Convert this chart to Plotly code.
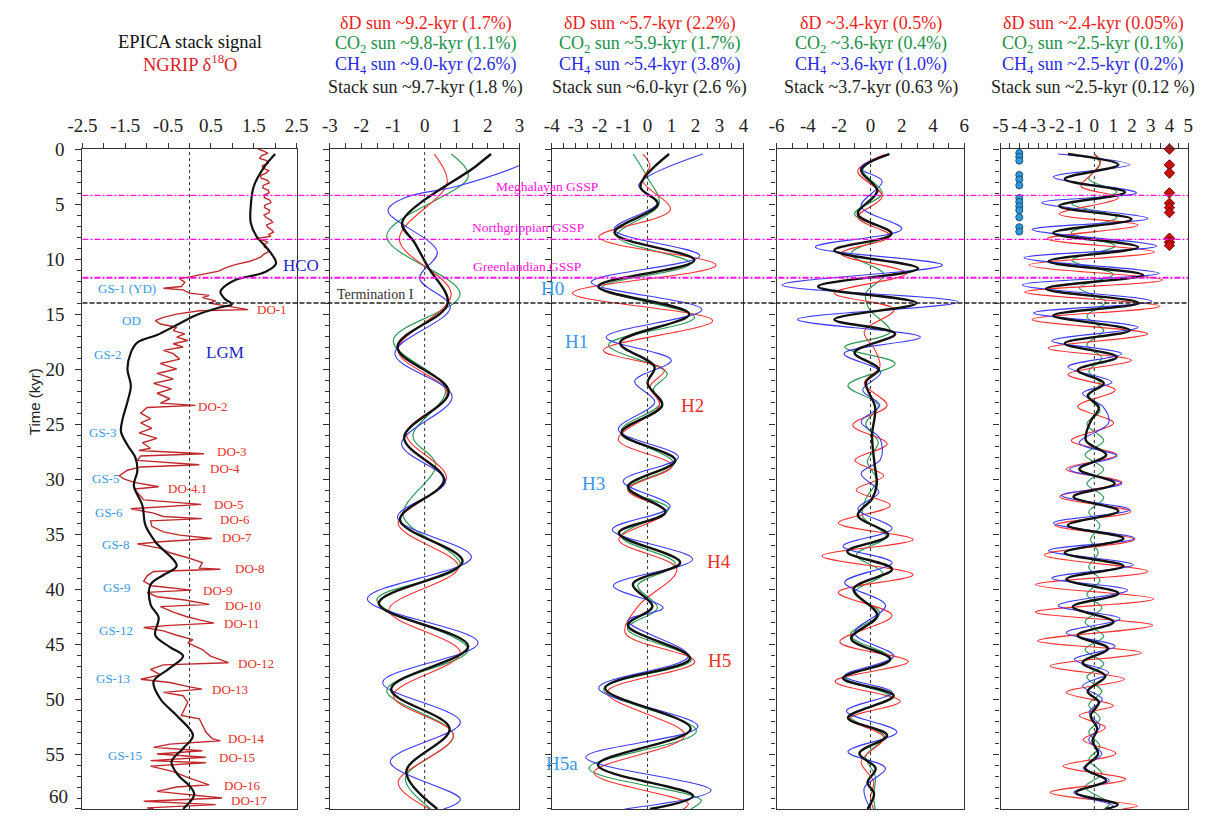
import plotly.graph_objects as go

# ---------------------------------------------------------------- data
# Panel 1: EPICA stack (black) and NGRIP d18O (red), time in kyr
epica_t = [0.45, 1.6, 3.4, 5.2, 6.7, 7.9, 9.1, 10.4, 11.2, 11.9, 12.7, 13.0, 13.6, 14.1, 14.4, 15.1,
           16.0, 16.9, 17.6, 18.5, 20.0, 21.5, 23.0, 24.5, 25.7, 26.9, 28.1, 29.3, 30.6, 32.4,
           34.2, 35.7, 37.9, 38.7, 39.6, 41.4, 42.6, 44.2, 45.3, 46.1, 47.3, 48.4, 50.0, 51.5,
           53.3, 54.5, 55.7, 56.9, 57.9, 58.7, 60.0]
epica_v = [2.0, 1.75, 1.5, 1.43, 1.43, 1.56, 1.83, 2.02, 1.75, 1.07, 0.76, 0.72, 0.82, 0.99, 0.7, 0.15,
           -0.3, -0.76, -1.22, -1.37, -1.45, -1.37, -1.45, -1.56, -1.6, -1.45, -1.26, -1.22, -1.3, -1.1,
           -1.03, -0.8, -0.3, -0.6, -0.91, -0.91, -0.72, -0.8, -0.45, -0.15, -0.5, -0.84, -0.68, -0.3,
           0.08, -0.15, -0.42, -0.27, 0.0, 0.11, -0.15]

ngrip_t = [0.0, 0.2, 0.39, 0.6, 0.84, 1.05, 1.29, 1.5, 1.73, 1.95, 2.18, 2.4, 2.63, 2.85, 3.08, 3.3, 3.53,
           3.75, 3.98, 4.2, 4.42, 4.65, 4.87, 5.1, 5.32, 5.55, 5.77, 6.0, 6.22, 6.45, 6.67, 6.9, 7.12,
           7.35, 7.56, 7.75, 7.92, 8.16, 8.3, 8.46, 8.7, 8.91, 9.15, 9.36, 9.6, 9.81, 10.0, 10.2, 10.5,
           10.8, 11.1, 11.4, 11.6,
           11.8, 12.1, 12.5, 12.65, 12.8, 13.1, 13.3, 13.5, 13.8, 14.0, 14.2, 14.4, 14.6, 14.7, 15.0,
           15.3, 15.6, 15.9, 16.2, 16.5, 16.8, 17.1, 17.4, 17.7, 18.0, 18.3, 18.6, 19.1, 19.5, 20.0,
           20.4, 20.9, 21.3, 21.8, 22.2, 22.7, 23.1, 23.3, 23.5, 24.0, 24.5, 24.9, 25.4, 25.8, 26.3,
           26.7, 27.2, 27.4, 27.7, 27.9, 28.3, 28.7, 28.9, 29.2, 29.7, 30.0, 30.3, 30.7, 30.9, 31.4,
           31.9, 32.3, 32.6, 32.7, 33.1, 33.4, 33.6, 33.8, 34.3, 34.8, 35.1, 35.4, 35.7, 35.9, 36.3,
           36.7, 37.2, 37.6, 38.1, 38.2, 38.4, 38.8, 39.3, 39.7, 40.1, 40.3, 40.7, 41.0, 41.4, 41.6,
           42.1, 42.5, 42.8, 43.1, 43.3, 43.5, 43.8, 44.2, 44.6, 44.9, 45.5, 46.1, 46.7, 46.9, 47.3,
           47.8, 48.2, 48.5, 48.9, 49.1, 49.4, 49.7, 50.3, 50.9, 51.5, 51.8, 52.4, 53.0, 53.6, 53.8,
           54.1, 54.4, 54.7, 55.0, 55.3, 55.6, 55.8, 56.1, 56.6, 57.2, 57.8, 58.0, 58.4, 58.7, 59.0,
           59.3, 59.6, 59.9, 60.0]
ngrip_v = [1.60, 1.75, 1.83, 1.68, 1.64, 1.80, 1.83, 1.70, 1.71, 1.85, 1.79, 1.66, 1.67, 1.82, 1.86, 1.72, 1.71,
           1.84, 1.86, 1.74, 1.75, 1.88, 1.90, 1.76, 1.75, 1.87, 1.86, 1.74, 1.79, 1.90, 1.94, 1.80, 1.83,
           1.92, 1.96, 1.85, 1.90, 1.52, 1.72, 1.83, 1.74, 1.75, 1.85, 1.83, 1.72, 1.67, 1.55, 1.41, 1.07,
           0.84, 0.68, 0.30, 0.0,
           -0.23, -0.11, -0.19, -0.61, -0.15, 0.0, 0.46, 0.30, 0.61, 0.46, 0.76, 1.07, 1.37, 0.23, -0.30,
           -0.61, -0.80, -0.68, -0.30, -0.38, -0.11, -0.30, -0.04, -0.38, -0.15, -0.61, -0.38, -0.23, -0.68, -0.30,
           -0.76, -0.38, -0.84, -0.42, -0.76, -0.46, -0.68, 0.14, -0.99, -1.14, -0.91, -1.14, -0.88, -1.18, -0.76,
           -1.10, -0.91, -1.18, 0.34, -1.14, -1.22, 0.23, -1.14, -1.45, -1.64, -1.52, -1.29, -0.72, -1.29, -1.18,
           -1.07, 0.27, -1.07, -1.37, -0.84, -0.61, 0.29, -0.91, -0.88, -0.61, -0.23, 0.52, -0.68, -1.22, -0.68,
           -0.46, 0.0, 0.30, 0.23, 0.72, -0.84, -0.99, -1.07, -0.88, 0.04, -0.99, -0.76, -0.11, 0.46, -0.68,
           -0.38, -0.08, 0.23, 0.57, -0.46, -1.07, -0.61, -0.30, 0.08, -0.04, 0.30, 0.49, 0.91, -0.61, -0.91,
           -0.68, -1.14, -0.46, 0.0, 0.29, -0.61, -0.15, -0.04, -0.11, -0.19, 0.23, 0.30, 0.38, 0.53, 0.72,
           -0.46, -0.84, 0.30, -0.76, 0.38, -0.91, 0.38, -0.91, -0.38, 0.0, 0.46, -0.30, -0.76, 0.08, 0.76,
           -1.07, 0.61, -0.99, -0.84]

# Panel 2: ~9-10 kyr band
p2_stack_t = [0.45, 1.6, 6.67, 8.5, 10.7, 14.05, 18.0, 22.06, 26.25, 30.1, 33.7, 37.5, 41.3, 45.2, 49.1, 52.7, 56.6, 60.0]
p2_stack_v = [2.1, 1.6, -0.71, -0.32, 0.1, 0.73, -0.86, 0.76, -0.65, 0.61, -0.78, 1.2, -1.45, 1.38, -1.06, 0.79, -0.58, 0.40]
p2_dD_t = [0.45, 3.1, 8.2, 13.2, 18.3, 22.2, 25.9, 29.9, 34.0, 38.0, 41.9, 45.8, 49.7, 53.3, 57.6, 60.0]
p2_dD_v = [0.3, 0.71, -0.8, 0.84, -0.84, 0.71, -0.58, 0.69, -0.84, 1.07, -1.13, 1.13, -0.99, 0.91, -0.84, 0.15]
p2_co2_t = [0.45, 2.5, 7.9, 13.2, 17.4, 21.9, 26.1, 28.7, 33.3, 37.8, 41.0, 45.5, 49.2, 53.3, 57.2, 60.0]
p2_co2_v = [0.84, 1.38, -1.2, 1.12, -0.99, 0.66, -0.37, 0.35, -0.68, 1.12, -1.51, 1.38, -1.2, 0.91, -0.61, 0.2]
p2_ch4_t = [0.6, 1.5, 3.4, 4.4, 5.6, 9.35, 11.75, 14.4, 18.6, 22.5, 26.8, 30.2, 33.5, 37.1, 40.9, 44.9, 48.5, 52.1, 55.7, 59.1, 60.0]
p2_ch4_v = [3.6, 3.0, 1.0, -0.6, -1.16, 0.4, -0.16, 0.81, -0.94, 0.87, -0.73, 0.66, -0.86, 1.48, -1.81, 1.69, -1.33, 1.13, -1.09, 1.13, 0.6]

# Panel 3: ~5-6 kyr band
p3_stack_t = [0.45, 3.4, 5.0, 7.6, 10.1, 12.5, 15.0, 17.6, 19.8, 21.3, 23.3, 25.8, 28.3, 30.7, 33.0, 34.9,
              37.6, 39.55, 41.6, 43.3, 46.3, 49.0, 52.7, 56.0, 58.8, 60.0]
p3_stack_v = [0.9, -0.3, 0.43, -1.38, 1.95, -2.06, 1.74, -1.15, 0.29, 0.0, 0.61, -1.09, 1.16, -0.82, 0.75, -1.2,
              1.36, -0.61, 0.2, -0.82, 1.77, -1.77, 1.8, -2.07, 1.9, 0.1]
p3_dD_t = [0.45, 1.5, 2.9, 5.5, 8.0, 10.55, 13.1, 15.6, 18.3, 20.1, 21.6, 23.3, 26.4, 28.8, 31.0, 33.0,
           35.5, 38.2, 41.6, 44.0, 46.6, 49.4, 53.3, 56.7, 59.5, 60.0]
p3_dD_v = [-0.2, 0.1, -0.2, 0.95, -2.04, 2.86, -3.13, 2.72, -1.84, 0.7, 0.1, 0.5, -1.22, 1.02, -0.82, 0.75,
           -1.2, 1.22, -0.41, -0.93, 1.97, -1.7, 1.56, -2.24, 1.7, 1.5]
p3_co2_t = [0.45, 2.6, 5.0, 7.9, 10.4, 12.6, 15.3, 17.8, 20.4, 21.8, 23.2, 25.6, 28.6, 30.9, 32.7, 35.2,
            37.7, 39.7, 41.7, 43.6, 46.4, 49.1, 52.9, 56.3, 59.2, 60.0]
p3_co2_v = [-0.6, 0.0, 0.48, -1.27, 1.77, -1.9, 1.97, -1.63, 0.82, 0.25, 0.5, -1.09, 1.09, -0.82, 0.88, -1.09,
            1.16, -0.41, 0.41, -0.84, 1.84, -1.84, 2.04, -2.45, 2.24, 1.8]
p3_ch4_t = [0.45, 3.3, 4.9, 7.3, 9.7, 12.1, 14.6, 17.1, 19.2, 21.1, 23.0, 25.5, 28.0, 30.2, 32.5, 34.6,
            37.3, 39.7, 41.7, 42.9, 46.1, 49.0, 52.5, 55.3, 58.3, 60.0]
p3_ch4_v = [2.31, -0.37, 0.41, -1.39, 2.18, -2.35, 2.27, -1.73, 0.99, -0.54, 0.3, -1.22, 1.29, -1.02, 0.95, -1.47,
            1.88, -1.43, 0.65, -0.82, 1.7, -2.04, 2.1, -2.58, 2.65, -0.95]

# Panel 4: ~3.5 kyr band
p4_stack_t = [0.45, 1.9, 3.8, 5.9, 7.7, 9.2, 10.85, 12.5, 14.0, 15.5, 16.8, 18.5, 20.0, 21.2, 23.5, 26.0,
              28.5, 30.5, 31.8, 33.3, 35.1, 36.6, 38.2, 40.0, 42.4, 44.5, 46.4, 48.1, 49.7, 51.7, 53.3,
              54.95, 56.3, 57.6, 58.6, 60.0]
p4_stack_v = [1.2, -0.6, 0.44, -0.81, 1.35, -2.31, 3.04, -3.35, 2.94, -2.31, 1.58, -1.02, 0.54, -0.29, 0.3, 0.1,
              0.25, 0.4, 0.1, -0.81, 1.13, -1.48, 1.38, -1.08, 0.44, -1.23, 1.27, -1.75, 1.48, -1.44, 1.06,
              -0.71, 0.33, -0.19, 0.23, -0.19]
p4_dD_t = [0.5, 2.0, 4.3, 6.2, 7.9, 9.5, 11.3, 13.1, 14.6, 16.6, 18.3, 19.8, 21.3, 23.3, 25.1, 26.8, 28.3,
           29.7, 31.0, 32.4, 34.0, 35.5, 37.0, 38.7, 40.3, 42.4, 44.8, 46.6, 48.4, 50.2, 51.8, 53.5, 55.7,
           57.5, 59.0, 60.0]
p4_dD_v = [0.9, -0.81, 0.75, -0.81, 1.27, -1.9, 2.31, -2.31, 1.5, -0.4, 0.3, 0.6, -0.4, 1.06, -1.13, 1.06, -1.0,
           0.85, -0.92, 1.27, -2.06, 2.73, -3.1, 2.73, -2.06, 1.38, -1.96, 2.42, -2.27, 1.9, -1.33, 0.85, -0.6,
           0.2, 0.0, 0.2]
p4_co2_t = [0.45, 1.9, 4.0, 5.9, 7.6, 9.5, 11.4, 13.1, 14.5, 16.6, 18.0, 19.5, 21.5, 23.3, 25.0, 26.7, 28.4,
            30.1, 31.8, 33.4, 35.2, 36.9, 38.6, 40.3, 42.2, 44.2, 46.3, 48.1, 49.8, 51.6, 53.4, 55.2, 57.0,
            58.8, 60.0]
p4_co2_v = [1.2, -0.5, 0.75, -1.02, 1.27, -1.23, 0.85, -0.29, -0.1, 1.27, -1.65, 1.58, -1.44, 0.5, -0.3, 0.5, -0.2,
            0.4, -0.3, -0.5, 1.0, -0.9, 0.8, -1.0, 0.6, -1.3, 1.3, -1.6, 1.3, -1.3, 0.9, -0.3, 0.3, 0.2, 0.3]
p4_ch4_t = [0.45, 1.73, 2.93, 5.2, 7.26, 8.9, 10.55, 12.35, 13.9, 15.5, 17.1, 18.6, 20.3, 21.9, 23.3, 24.8,
            26.3, 28.2, 29.5, 31.2, 32.7, 34.5, 36.1, 37.6, 39.4, 41.5, 44.0, 46.1, 47.9, 49.4, 51.1, 53.0,
            54.8, 56.3, 58.1, 60.0]
p4_ch4_v = [1.23, -0.65, 0.75, -0.6, 2.0, -3.52, 4.6, -5.65, 5.6, -4.67, 3.19, -1.69, 0.65, -0.5, 0.6, -0.6,
            0.6, 0.65, -0.6, 0.54, -0.81, 1.38, -1.75, 1.38, -1.65, 0.96, -1.02, 1.48, -1.65, 1.38, -1.54, 1.69,
            -1.44, 0.96, -0.4, 0.0]

# Panel 5: ~2.5 kyr band
p5_stack_t = [0.45, 1.43, 2.72, 3.92, 5.17, 6.37, 7.62, 8.91, 10.2, 11.45, 12.7, 13.99, 15.13, 16.47, 17.67,
              18.9, 20.1, 21.3, 22.4, 23.5, 24.75, 26.5, 27.8, 29.1, 30.4, 31.6, 32.9, 34.2, 35.4, 36.7,
              37.9, 39.1, 40.4, 41.6, 43.0, 44.2, 45.4, 46.7, 47.9, 49.3, 50.3, 51.5, 52.7, 53.8, 55.0,
              56.3, 57.4, 58.5, 59.6, 60.0]
p5_stack_v = [-1.41, 1.28, -1.58, 1.63, -1.88, 1.98, -2.19, 2.33, -2.45, 2.59, -2.57, 2.36, -2.19, 1.89, -1.58,
              1.2, -0.89, 0.5, -0.36, 0.24, -0.2, -0.45, 0.63, -0.8, 1.08, -1.11, 1.28, -1.41, 1.55, -1.58,
              1.55, -1.49, 1.28, -1.15, 1.02, -0.89, 0.73, -0.63, 0.59, -0.36, 0.24, -0.2, 0.15, -0.1, 0.2,
              -0.49, 0.63, -0.97, 1.25, 0.6]
p5_dD_t = [0.45, 1.14, 2.2, 3.38, 4.42, 5.9, 6.9, 8.16, 9.36, 10.55, 11.9, 13.0, 14.3, 15.5, 16.8, 18.1, 19.2,
           20.5, 21.9, 23.4, 24.9, 26.5, 27.8, 29.1, 30.3, 31.6, 32.97, 34.2, 35.5, 36.9, 38.4, 39.6, 40.9,
           42.1, 43.3, 44.7, 45.8, 47.0, 48.2, 49.4, 50.6, 51.5, 52.6, 53.7, 54.95, 56.1, 57.3, 58.5, 59.7, 60.0]
p5_dD_v = [0.0, 0.33, -0.1, -0.71, 1.28, -1.88, 2.33, -2.53, 3.19, -3.49, 3.63, -3.72, 3.5, -3.32, 2.85, -2.45,
           1.98, -1.41, 1.11, -0.89, 1.02, -1.23, 1.2, -1.49, 1.46, -1.84, 1.94, -2.1, 2.15, -2.67, 2.85, -3.14,
           3.16, -3.14, 3.1, -3.02, 2.5, -2.36, 1.6, -1.49, 1.02, -0.8, 0.59, -0.6, 1.15, -1.67, 1.67, -2.36,
           2.29, 1.5]
p5_co2_t = [0.45, 1.4, 2.7, 3.9, 5.0, 6.2, 7.6, 8.8, 10.1, 11.4, 12.6, 13.9, 15.2, 16.5, 17.8, 19.0, 20.2,
            21.3, 22.5, 23.8, 25.0, 26.5, 27.8, 29.1, 30.4, 31.7, 33.0, 34.2, 35.5, 36.7, 38.0, 39.2, 40.5,
            41.7, 43.0, 44.3, 45.5, 46.8, 48.0, 49.3, 50.5, 51.8, 53.0, 54.3, 55.5, 56.8, 58.0, 59.5, 60.0]
p5_co2_v = [0.0, 0.3, -0.3, 1.2, -1.2, 1.2, -1.23, 1.1, -1.2, 1.0, -0.8, 0.6, -0.4, 0.5, -0.4, 0.4, -0.3,
            0.3, -0.3, 0.3, -0.4, 0.5, -0.5, 0.5, -0.4, 0.5, -0.3, 0.3, -0.2, 0.2, -0.3, 0.3, -0.4,
            0.4, -0.5, 0.5, -0.5, 0.5, -0.4, 0.4, -0.3, 0.3, -0.3, 0.3, -0.3, 0.4, -0.5, 0.8, 0.5]
p5_ch4_t = [0.45, 1.43, 2.54, 3.98, 4.87, 6.31, 7.32, 8.82, 9.89, 11.3, 12.35, 13.84, 14.9, 16.2, 17.43, 18.6,
            19.8, 21.2, 22.2, 23.5, 24.9, 26.7, 27.9, 29.1, 30.4, 31.5, 32.8, 34.0, 35.4, 36.5, 37.8, 39.0,
            40.1, 41.5, 42.7, 43.97, 45.2, 46.4, 47.6, 48.8, 50.0, 51.2, 52.5, 53.7, 55.0, 56.3, 57.4, 58.5,
            59.7, 60.0]
p5_ch4_v = [-1.93, 1.89, -2.19, 2.24, -2.8, 2.85, -3.32, 3.33, -3.75, 3.45, -3.84, 3.06, -3.23, 2.33, -2.27, 1.46,
            -1.41, 0.94, -0.63, 0.5, 0.76, -0.8, 1.2, -1.32, 1.46, -1.75, 1.89, -2.19, 2.15, -2.45, 2.07, -2.27,
            1.77, -1.93, 1.37, -1.49, 1.11, -1.06, 0.76, -0.63, 0.42, -0.28, 0.3, -0.3, 0.4, -0.6, 0.8, -1.1,
            1.0, 0.6]

# Event markers in panel 5 (kyr)
blue_event_t = [0.35, 0.7, 1.05, 2.35, 2.75, 3.3, 4.45, 4.8, 5.2, 5.55, 6.2, 7.1, 7.5]
blue_event_x = [-4] * len(blue_event_t)
red_event_t = [0.0, 1.44, 2.18, 3.98, 4.93, 5.32, 5.77, 8.1, 8.46, 8.76]
red_event_x = [4] * len(red_event_t)

# Stratigraphic boundaries (kyr)
gssp_t = [4.2, 8.2, 11.7]
gssp_names = ["Meghalayan GSSP", "Northgrippian GSSP", "Greenlandian GSSP"]
termination_t = 14.0

# Axis tick labels
time_ticks = [0, 5, 10, 15, 20, 25, 30, 35, 40, 45, 50, 55, 60]
x_ticks = [
    [-2.5, -1.5, -0.5, 0.5, 1.5, 2.5],
    [-3, -2, -1, 0, 1, 2, 3],
    [-4, -3, -2, -1, 0, 1, 2, 3, 4],
    [-6, -4, -2, 0, 2, 4, 6],
    [-5, -4, -3, -2, -1, 0, 1, 2, 3, 4, 5],
]
x_ticktext = [
    ["-2.5", "-1.5", "-0.5", "0.5", "1.5", "2.5"],
    ["-3", "-2", "-1", "0", "1", "2", "3"],
    ["-4", "-3", "-2", "-1", "0", "1", "2", "3", "4"],
    ["-6", "-4", "-2", "0", "2", "4", "6"],
    ["-5", "-4", "-3", "-2", "-1", "0", "1", "2", "3", "4", "5"],
]

# Panel headers
headers = [
    ["δD sun ~9.2-kyr (1.7%)", "CO<sub>2</sub> sun ~9.8-kyr (1.1%)",
     "CH<sub>4</sub> sun ~9.0-kyr (2.6%)", "Stack sun ~9.7-kyr (1.8 %)"],
    ["δD sun ~5.7-kyr (2.2%)", "CO<sub>2</sub> sun ~5.9-kyr (1.7%)",
     "CH<sub>4</sub> sun ~5.4-kyr (3.8%)", "Stack sun ~6.0-kyr (2.6 %)"],
    ["δD ~3.4-kyr (0.5%)", "CO<sub>2</sub> ~3.6-kyr (0.4%)",
     "CH<sub>4</sub> ~3.6-kyr (1.0%)", "Stack ~3.7-kyr (0.63 %)"],
    ["δD sun ~2.4-kyr (0.05%)", "CO<sub>2</sub> sun ~2.5-kyr (0.1%)",
     "CH<sub>4</sub> sun ~2.5-kyr (0.2%)", "Stack sun ~2.5-kyr (0.12 %)"],
]

# ---------------------------------------------------------------- layout helpers
WIN_W, WIN_H = 1226, 826
PAGE_PAD = 8                      # default body margin of the html page, on every side
W, H = WIN_W - 2 * PAGE_PAD, WIN_H - 2 * PAGE_PAD
SERIF = "Liberation Serif"
RED, GREEN, BLUE, BLACK = "#ff3030", "#2e9a55", "#3a3aff", "#111111"
HDR_COLORS = ["#ee2020", "#22904a", "#2a2ae0", "#222222"]
LBLUE, DBLUE, LRED, MAG = "#3a96e8", "#2323c8", "#e83028", "#ff10e0"

def px(x):
    """window pixel column -> paper fraction"""
    return (x - PAGE_PAD) / W

def py(y):
    """window pixel row -> paper fraction"""
    return 1 - (y - PAGE_PAD) / H

TOP, BOT = 149, 818
panels = [
    dict(x0=77, x1=296, rng=[-2.5, 2.5], tick0=-2.5, minor=0.5),
    dict(x0=330, x1=524, rng=[-3, 3], tick0=-3, minor=0.5),
    dict(x0=557, x1=753, rng=[-4, 4], tick0=-4, minor=0.5),
    dict(x0=787, x1=979, rng=[-6, 6], tick0=-6, minor=1),
    dict(x0=1016, x1=1208, rng=[-5, 5], tick0=-5, minor=0.5),
]

# the bottom time label sits on the lower frame edge, so it is written separately
y_ticktext = [str(v) for v in time_ticks[:-1]] + [""]

fig = go.Figure()
layout = dict(
    width=W, height=H, margin=dict(l=0, r=0, t=0, b=0),
    paper_bgcolor="white", plot_bgcolor="white", showlegend=False,
    font=dict(family=SERIF, color="#222"),
)

for i, p in enumerate(panels):
    sfx = "" if i == 0 else str(i + 1)
    layout["xaxis" + sfx] = dict(
        domain=[px(p["x0"]), px(p["x1"])], range=p["rng"], side="top", anchor="y" + sfx,
        tickmode="array", tickvals=x_ticks[i], ticktext=x_ticktext[i], tickangle=0,
        ticks="outside", ticklen=5, tickwidth=1, tickcolor="#333", showgrid=False, zeroline=False,
        showline=True, linecolor="#333", linewidth=1.3, mirror=True,
        tickfont=dict(family=SERIF, size=19, color="#222"), ticklabelstandoff=3,
        minor=dict(tickmode="linear", dtick=p["minor"], tick0=p["tick0"], ticks="outside", ticklen=5,
                   tickcolor="#333", showgrid=False),
    )
    layout["yaxis" + sfx] = dict(
        domain=[py(BOT), py(TOP)], range=[60, 0], anchor="x" + sfx,
        tickmode="array", tickvals=time_ticks, ticktext=y_ticktext,
        ticks="outside", ticklen=6, tickwidth=1,
        tickcolor="#333", showgrid=False, zeroline=False, showticklabels=(i == 0),
        showline=True, linecolor="#333", linewidth=1.3, mirror=True,
        tickfont=dict(family=SERIF, size=19, color="#222"), ticklabelstandoff=7,
        minor=dict(tickmode="linear", tick0=0, dtick=1, ticks="outside", ticklen=4,
                   tickcolor="#333", showgrid=False),
    )

def curve(t, v, color, width, idx, shape="spline"):
    sfx = "" if idx == 0 else str(idx + 1)
    fig.add_trace(go.Scatter(
        x=v, y=t, mode="lines", xaxis="x" + sfx, yaxis="y" + sfx, hoverinfo="skip",
        line=dict(color=color, width=width, shape=shape, smoothing=1.0)))

# panel 1
curve(ngrip_t, ngrip_v, "#c0282c", 1.4, 0, shape="linear")
curve(epica_t, epica_v, BLACK, 2.2, 0)

# band-pass panels: thin coloured series then the thick stack on top
series = [
    (p2_dD_t, p2_dD_v, p2_co2_t, p2_co2_v, p2_ch4_t, p2_ch4_v, p2_stack_t, p2_stack_v),
    (p3_dD_t, p3_dD_v, p3_co2_t, p3_co2_v, p3_ch4_t, p3_ch4_v, p3_stack_t, p3_stack_v),
    (p4_dD_t, p4_dD_v, p4_co2_t, p4_co2_v, p4_ch4_t, p4_ch4_v, p4_stack_t, p4_stack_v),
    (p5_dD_t, p5_dD_v, p5_co2_t, p5_co2_v, p5_ch4_t, p5_ch4_v, p5_stack_t, p5_stack_v),
]
for k, s in enumerate(series):
    idx = k + 1
    curve(s[2], s[3], GREEN, 1.2, idx)
    curve(s[0], s[1], RED, 1.1, idx)
    curve(s[4], s[5], BLUE, 1.1, idx)
    curve(s[6], s[7], BLACK, 2.4, idx)

# event markers
fig.add_trace(go.Scatter(x=blue_event_x, y=blue_event_t, mode="markers", xaxis="x5", yaxis="y5",
                         hoverinfo="skip",
                         marker=dict(symbol="circle", size=7, color="#2f9ad8",
                                     line=dict(color="#1c4f7c", width=1))))
fig.add_trace(go.Scatter(x=red_event_x, y=red_event_t, mode="markers", xaxis="x5", yaxis="y5",
                         hoverinfo="skip", cliponaxis=False,
                         marker=dict(symbol="diamond", size=8, color="#cc1010",
                                     line=dict(color="#6a0000", width=1))))

shapes = []
# zero reference lines
for i in range(5):
    sfx = "" if i == 0 else str(i + 1)
    shapes.append(dict(type="line", xref="x" + sfx, yref="y" + sfx + " domain", x0=0, x1=0, y0=0, y1=1,
                       line=dict(color="#333", width=1, dash="dot")))
# horizontal boundaries across all panels
for j, t in enumerate(gssp_t):
    shapes.append(dict(type="line", xref="paper", yref="y", x0=px(77), x1=px(1208), y0=t, y1=t,
                       line=dict(color=MAG, width=1.9 if j == 2 else 1.3, dash="6px,2px,2px,2px")))
shapes.append(dict(type="line", xref="paper", yref="y", x0=px(77), x1=px(1208),
                   y0=termination_t, y1=termination_t, line=dict(color="#222", width=1.5, dash="5px,2px")))
layout["shapes"] = shapes

ann = []

def label(text, x, y, color, size, anchor="center", family=SERIF, angle=0, yanchor="middle"):
    ann.append(dict(text=text, x=px(x), y=py(y), xref="paper", yref="paper", showarrow=False,
                    xanchor=anchor, yanchor=yanchor, textangle=angle,
                    font=dict(family=family, size=size, color=color)))

# last time label on the lower frame edge
label(str(time_ticks[-1]), 64, BOT, "#222", 19, anchor="right", yanchor="bottom")

# headers
label("EPICA stack signal", 187, 40, "#111", 18.5)
label("NGRIP δ<sup>18</sup>O", 187, 62, "#d8202a", 18.5)
hdr_x = [428, 657, 884, 1111]
hdr_y = [22, 43, 64, 87]
for cx, lines in zip(hdr_x, headers):
    for ly, txt, col in zip(hdr_y, lines, HDR_COLORS):
        label(txt, cx, ly, col, 18)

label("Time (kyr)", 28, 405, "#222", 15, family="Liberation Sans", angle=-90)

# GSSP and termination labels
for name, x, y in zip(gssp_names, [498, 473, 474], [187, 229, 268]):
    label(name, x, y, MAG, 13.5, anchor="left")
label("Termination I", 377, 296, "#333", 14)

# panel 1 stadial / interstadial labels
for txt, x, y in [("GS-1 (YD)", 123, 290), ("OD", 127, 323), ("GS-2", 103, 357), ("GS-3", 98, 436),
                  ("GS-5", 101, 483), ("GS-6", 104, 517), ("GS-8", 111, 550), ("GS-9", 112, 593),
                  ("GS-12", 111, 637), ("GS-13", 108, 686), ("GS-15", 120, 764)]:
    label(txt, x, y, LBLUE, 13)
for txt, x, y in [("DO-1", 271, 312), ("DO-2", 211, 410), ("DO-3", 230, 456), ("DO-4", 223, 473),
                  ("DO-4.1", 184, 493), ("DO-5", 227, 509), ("DO-6", 233, 525), ("DO-7", 235, 543),
                  ("DO-8", 248, 574), ("DO-9", 216, 596), ("DO-10", 241, 612), ("DO-11", 240, 630),
                  ("DO-12", 255, 670), ("DO-13", 228, 697), ("DO-14", 245, 747), ("DO-15", 235, 766),
                  ("DO-16", 241, 794), ("DO-17", 248, 809)]:
    label(txt, x, y, LRED, 13)
label("LGM", 223, 355, DBLUE, 17)
label("HCO", 301, 267, DBLUE, 17)

# Heinrich events in panel 3
for txt, x, y, col in [("H0", 558, 290, LBLUE), ("H1", 582, 344, LBLUE), ("H2", 701, 409, LRED),
                       ("H3", 600, 488, LBLUE), ("H4", 728, 567, LRED), ("H5", 729, 667, LRED),
                       ("H5a", 567, 772, LBLUE)]:
    label(txt, x, y, col, 19)

layout["annotations"] = ann
fig.update_layout(**layout)
fig.write_html("out.html")
